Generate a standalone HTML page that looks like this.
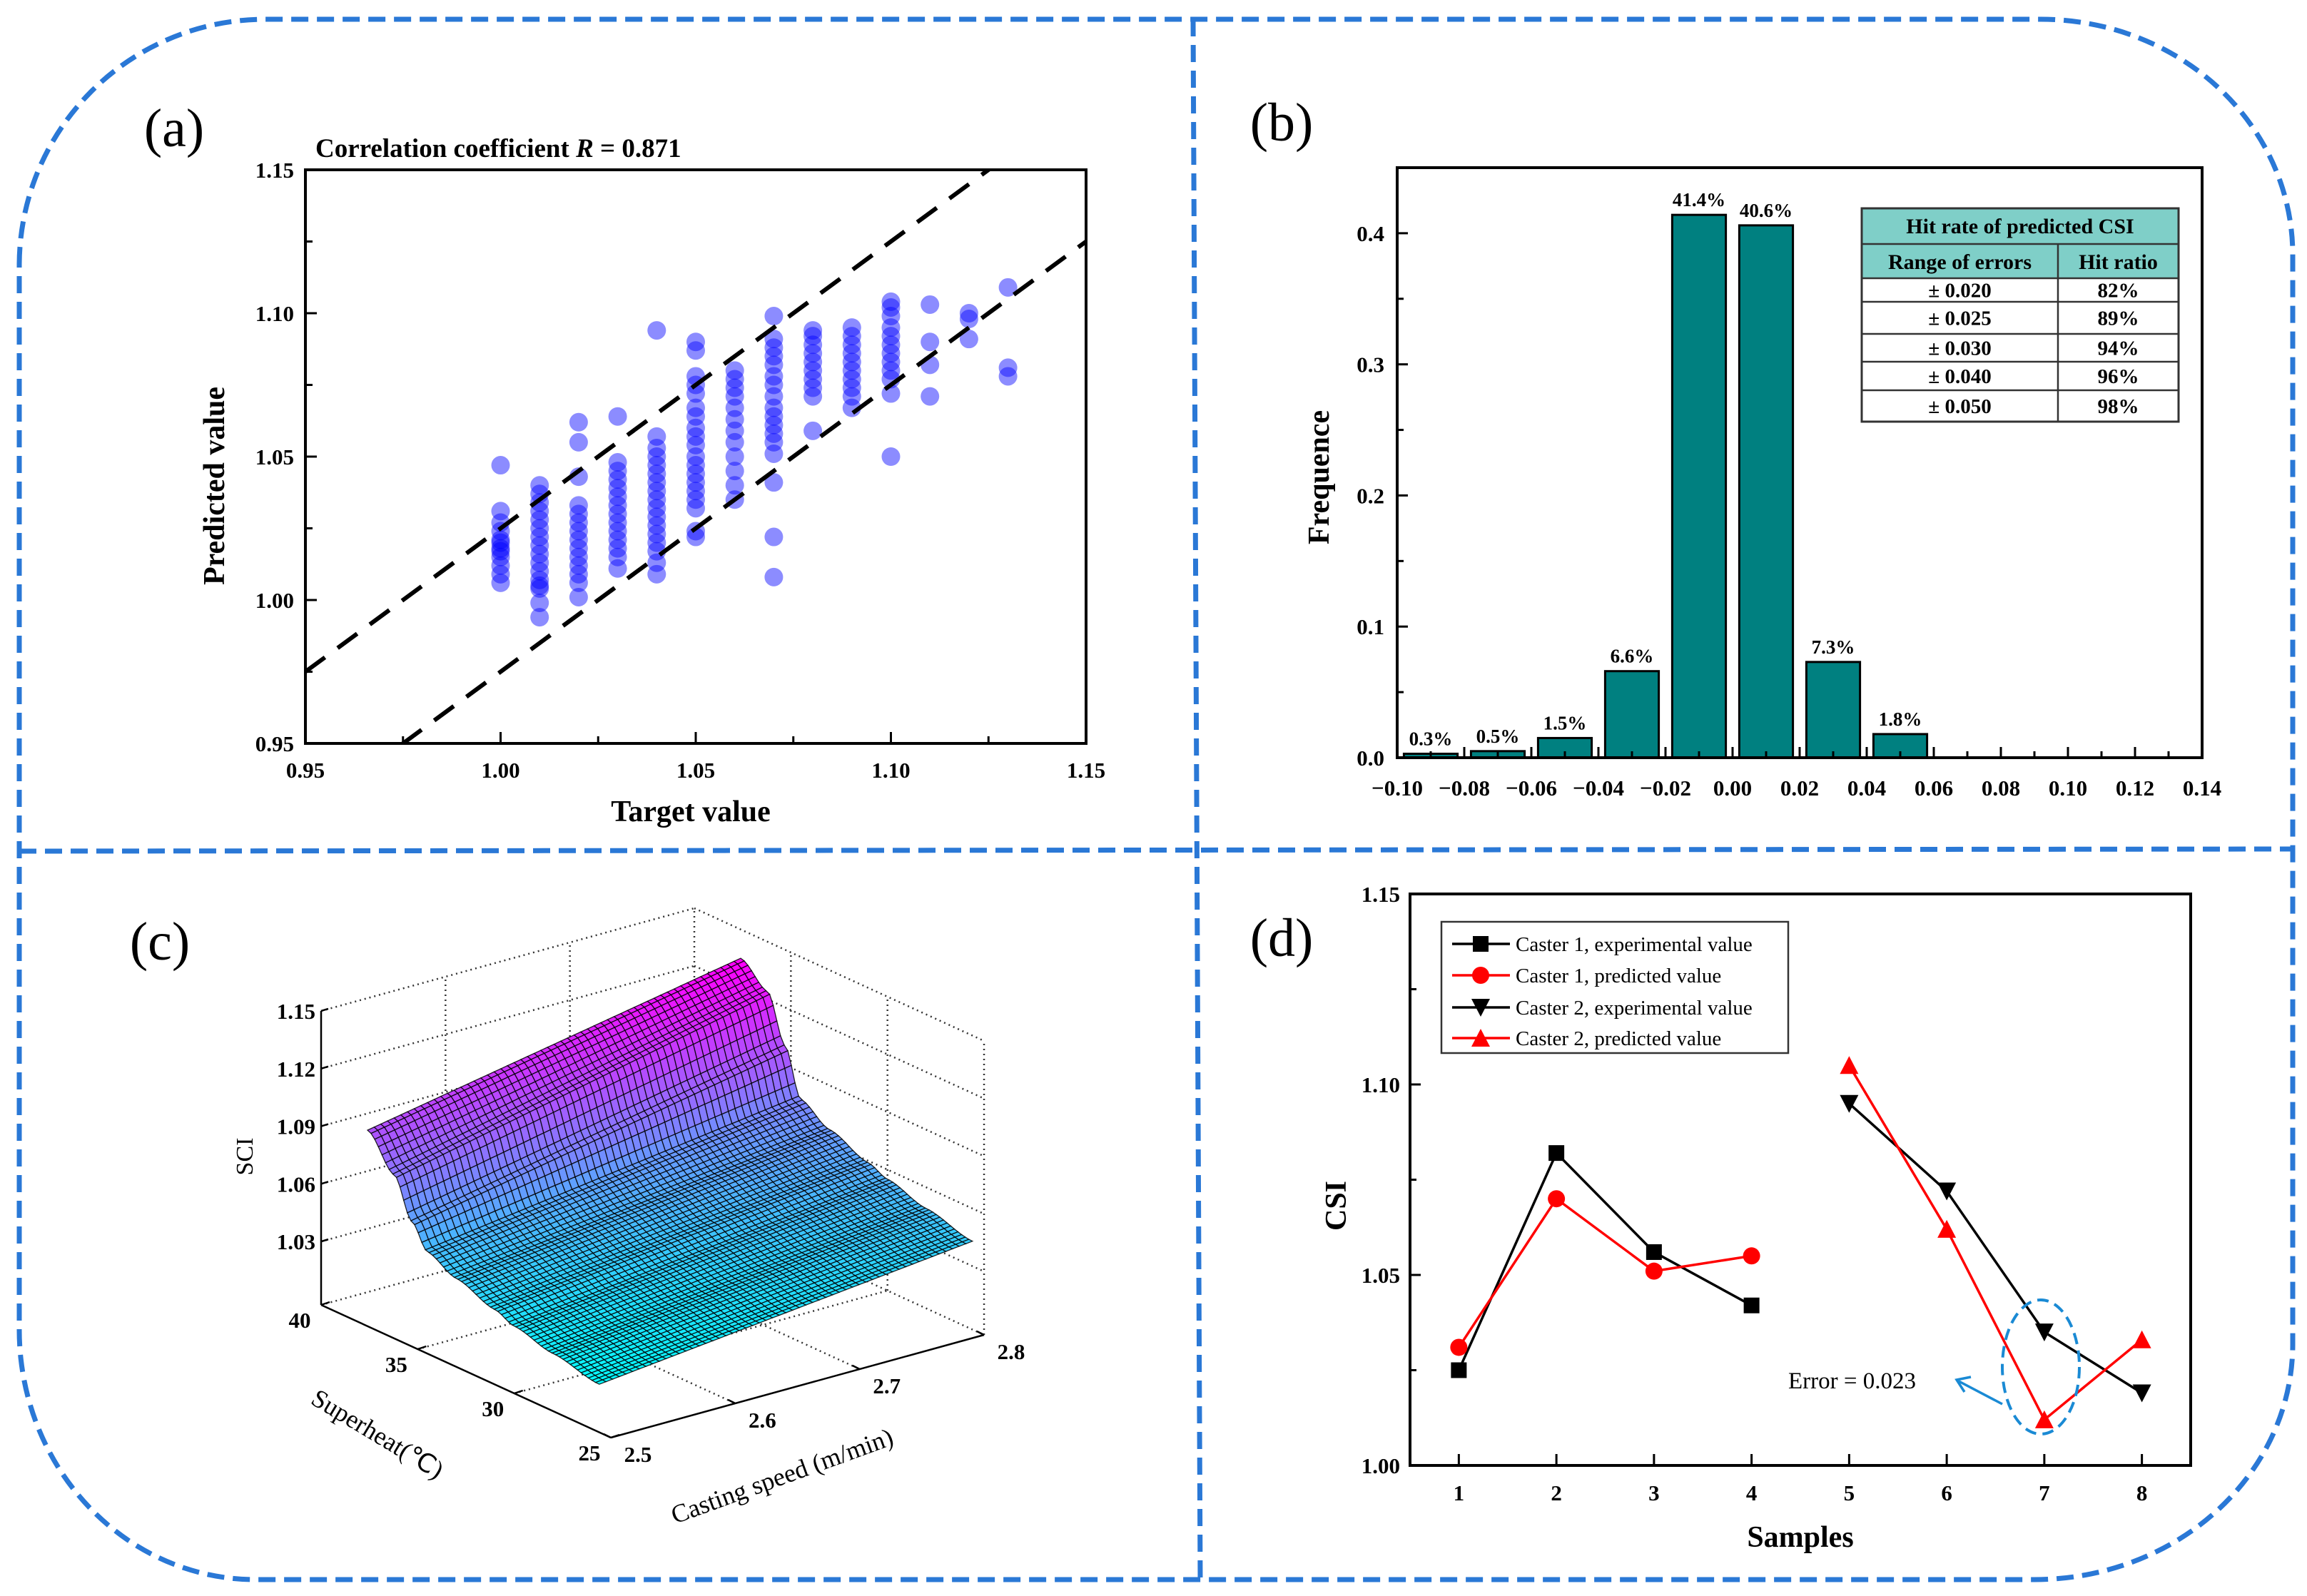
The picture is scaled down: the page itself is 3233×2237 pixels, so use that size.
<!DOCTYPE html>
<html><head><meta charset="utf-8"><style>
html,body{margin:0;padding:0;background:#fff}
svg{display:block}
text{font-family:"Liberation Serif",serif}
.b{font-weight:bold}
</style></head><body>
<svg id="fig" width="3233" height="2237" viewBox="0 0 3233 2237" xmlns="http://www.w3.org/2000/svg">
<g id="frame" fill="none" stroke="#2a78d6" stroke-width="7" stroke-dasharray="24 12">
<path d="M27,370 A345,345 0 0 1 372,27 L2860,27 A353,330 0 0 1 3213,357 L3213,1885 A362,330 0 0 1 2851,2214 L358,2214 A331,350 0 0 1 27,1864 Z"/>
<line x1="1672" y1="27" x2="1682" y2="2214"/>
<line x1="27" y1="1193" x2="3213" y2="1190"/>
</g>
<g id="pa"></g>
<g id="pb"></g>
<g id="pc"></g>
<g id="pd"></g>
</svg>
<script>
// ---------- Panel (a) data ----------
const aTargets=[1.00,1.01,1.02,1.03,1.04,1.05,1.06,1.07,1.08,1.09,1.10,1.11,1.12,1.13];
const aPredicted=[
[1.047,1.031,1.027,1.024,1.021,1.018,1.015,1.012,1.009,1.006,1.020,1.017],
[0.994,0.999,1.004,1.007,1.010,1.013,1.016,1.019,1.022,1.025,1.028,1.031,1.034,1.037,1.040,1.005],
[1.001,1.006,1.009,1.012,1.015,1.018,1.021,1.024,1.027,1.030,1.033,1.043,1.055,1.062],
[1.011,1.015,1.018,1.021,1.024,1.027,1.030,1.033,1.036,1.039,1.042,1.045,1.048,1.064],
[1.009,1.013,1.017,1.020,1.023,1.026,1.029,1.032,1.035,1.038,1.041,1.044,1.047,1.050,1.053,1.057,1.094],
[1.022,1.024,1.032,1.035,1.038,1.041,1.044,1.047,1.050,1.054,1.057,1.060,1.064,1.067,1.072,1.075,1.078,1.087,1.090],
[1.035,1.040,1.045,1.050,1.055,1.059,1.063,1.067,1.071,1.074,1.077,1.080],
[1.008,1.022,1.041,1.051,1.055,1.058,1.061,1.064,1.067,1.071,1.075,1.078,1.082,1.085,1.088,1.091,1.099],
[1.059,1.071,1.074,1.077,1.080,1.083,1.086,1.089,1.092,1.094],
[1.067,1.071,1.074,1.077,1.080,1.083,1.086,1.089,1.092,1.095],
[1.050,1.072,1.077,1.080,1.083,1.086,1.089,1.092,1.095,1.099,1.102,1.104],
[1.071,1.082,1.090,1.103],
[1.091,1.098,1.100],
[1.078,1.081,1.109]];
const aTicks=["0.95","1.00","1.05","1.10","1.15"];
const aBandOffsets=[0.025,-0.025];

// ---------- Panel (b) data ----------
const bBins=[-0.09,-0.07,-0.05,-0.03,-0.01,0.01,0.03,0.05];
const bFreq=[0.003,0.005,0.015,0.066,0.414,0.406,0.073,0.018];
const bLabels=["0.3%","0.5%","1.5%","6.6%","41.4%","40.6%","7.3%","1.8%"];
const bXTicks=["\u22120.10","\u22120.08","\u22120.06","\u22120.04","\u22120.02","0.00","0.02","0.04","0.06","0.08","0.10","0.12","0.14"];
const bYTicks=["0.0","0.1","0.2","0.3","0.4"];
const tRanges=["\u00b1 0.020","\u00b1 0.025","\u00b1 0.030","\u00b1 0.040","\u00b1 0.050"];
const tRatios=["82%","89%","94%","96%","98%"];

// ---------- Panel (c) data ----------
const cProfileS=[25.6,28,30,31,33,34.5,35.3,36.2,37.6];
const cZLowSpeed=[1.022,1.027,1.032,1.036,1.043,1.050,1.062,1.082,1.099];
const cZHighSpeed=[1.043,1.049,1.055,1.059,1.067,1.076,1.100,1.124,1.135];
const cZTicks=["1.03","1.06","1.09","1.12","1.15"];
const cSTicks=["40","35","30","25"];
const cVTicks=["2.5","2.6","2.7","2.8"];

// ---------- Panel (d) data ----------
const dSamples1=[1,2,3,4];
const dSamples2=[5,6,7,8];
const dC1Exp=[1.025,1.082,1.056,1.042];
const dC1Pred=[1.031,1.070,1.051,1.055];
const dC2Exp=[1.095,1.072,1.035,1.019];
const dC2Pred=[1.105,1.062,1.012,1.033];
const dYTicks=["1.00","1.05","1.10","1.15"];
const dXTicks=["1","2","3","4","5","6","7","8"];

const NS="http://www.w3.org/2000/svg";
function mk(parent,tag,attrs,txt){const e=document.createElementNS(NS,tag);for(const k in attrs)e.setAttribute(k,attrs[k]);if(txt!==undefined)e.textContent=txt;parent.appendChild(e);return e;}

// ================= Panel A =================
(function(){
const g=document.getElementById('pa');
const L=428,R=1522,T=238,B=1042;
const xs=v=>L+(v-0.95)/0.2*(R-L), ys=v=>B-(v-0.95)/0.2*(B-T);
let t=mk(g,'text',{x:244,y:205,'font-size':76,'text-anchor':'middle'},'(a)');

t=mk(g,'text',{x:442,y:220,'font-size':37,class:'b'});

t.innerHTML='Correlation coefficient <tspan font-style="italic">R</tspan> = 0.871';
const pts=mk(g,'g',{fill:'#0000ff','fill-opacity':0.45});

aTargets.forEach((tx,i)=>{aPredicted[i].forEach(py=>{
 const c=mk(pts,'circle',{cx:xs(tx),cy:ys(py),r:13});
 
 
});});
const clip=mk(g,'clipPath',{id:'clipA'});mk(clip,'rect',{x:L,y:T,width:R-L,height:B-T});
aBandOffsets.forEach((o,i)=>{
 const ln=mk(g,'line',{x1:xs(0.95),y1:ys(0.95+o),x2:xs(1.15),y2:ys(1.15+o),stroke:'#000','stroke-width':6,'stroke-dasharray':'34 22','clip-path':'url(#clipA)'});
 
 
});
const box=mk(g,'rect',{x:L,y:T,width:R-L,height:B-T,fill:'none',stroke:'#000','stroke-width':4});

for(let k=0;k<=8;k++){const v=0.95+k*0.025;
 mk(g,'line',{x1:xs(v),y1:B,x2:xs(v),y2:B-(k%2?10:16),stroke:'#000','stroke-width':3});
 mk(g,'line',{x1:L,y1:ys(v),x2:L+(k%2?10:16),y2:ys(v),stroke:'#000','stroke-width':3});}
aTicks.forEach((s,k)=>{const v=0.95+k*0.05;
 let e=mk(g,'text',{x:xs(v),y:1090,'font-size':31,'text-anchor':'middle',class:'b'},s);
 
 e=mk(g,'text',{x:412,y:ys(v)+11,'font-size':31,'text-anchor':'end',class:'b'},s);
 });
t=mk(g,'text',{x:968,y:1151,'font-size':42,'text-anchor':'middle',class:'b'},'Target value');

t=mk(g,'text',{x:0,y:0,'font-size':42,'text-anchor':'middle',class:'b',transform:'translate(314,681) rotate(-90)'},'Predicted value');

})();

// ================= Panel B =================
(function(){
const g=document.getElementById('pb');
const L=1958,R=3086,T=235,B=1062;
const xs=v=>L+(v+0.10)/0.24*(R-L), ys=v=>B-v/0.45*(B-T);
let t=mk(g,'text',{x:1796,y:197,'font-size':76,'text-anchor':'middle'},'(b)');

bBins.forEach((c,i)=>{
 const x0=xs(c-0.008),x1=xs(c+0.008);
 const r=mk(g,'rect',{x:x0,y:ys(bFreq[i]),width:x1-x0,height:B-ys(bFreq[i]),fill:'#008080',stroke:'#000','stroke-width':3});
 
 
 const l=mk(g,'text',{x:xs(c),y:ys(bFreq[i])-12,'font-size':27,'text-anchor':'middle',class:'b'},bLabels[i]);
 
 
});
const box=mk(g,'rect',{x:L,y:T,width:R-L,height:B-T,fill:'none',stroke:'#000','stroke-width':4});

for(let k=0;k<=24;k++){const v=-0.10+k*0.01;
 mk(g,'line',{x1:xs(v),y1:B,x2:xs(v),y2:B-(k%2?9:15),stroke:'#000','stroke-width':3});}
for(let k=0;k<=9;k++){const v=k*0.05;
 mk(g,'line',{x1:L,y1:ys(v),x2:L+(k%2?9:15),y2:ys(v),stroke:'#000','stroke-width':3});}
bXTicks.forEach((s,k)=>{const v=-0.10+k*0.02;
 const e=mk(g,'text',{x:xs(v),y:1115,'font-size':31,'text-anchor':'middle',class:'b'},s);
 });
bYTicks.forEach((s,k)=>{const v=k*0.1;
 const e=mk(g,'text',{x:1940,y:ys(v)+11,'font-size':31,'text-anchor':'end',class:'b'},s);
 });
t=mk(g,'text',{x:0,y:0,'font-size':42,'text-anchor':'middle',class:'b',transform:'translate(1862,669) rotate(-90)'},'Frequence');

const tg=mk(g,'g',{});

const TL=2609,TR=3053,C=2884,rows=[292,342,390,423,468,507,547,591];
mk(tg,'rect',{x:TL,y:rows[0],width:TR-TL,height:rows[2]-rows[0],fill:'#7fcfc8'});
mk(tg,'rect',{x:TL,y:rows[0],width:TR-TL,height:rows[7]-rows[0],fill:'none',stroke:'#333','stroke-width':3});
rows.slice(1,7).forEach(y=>mk(tg,'line',{x1:TL,y1:y,x2:TR,y2:y,stroke:'#333','stroke-width':2.5}));
mk(tg,'line',{x1:C,y1:rows[1],x2:C,y2:rows[7],stroke:'#333','stroke-width':2.5});
let e=mk(tg,'text',{x:(TL+TR)/2,y:327,'font-size':30,'text-anchor':'middle',class:'b'},'Hit rate of predicted CSI');

e=mk(tg,'text',{x:(TL+C)/2,y:377,'font-size':30,'text-anchor':'middle',class:'b'},'Range of  errors');

e=mk(tg,'text',{x:(C+TR)/2,y:377,'font-size':30,'text-anchor':'middle',class:'b'},'Hit ratio');

tRanges.forEach((s,i)=>{const cy=(rows[i+2]+rows[i+3])/2+10;
 let c=mk(tg,'text',{x:(TL+C)/2,y:cy,'font-size':29,'text-anchor':'middle',class:'b'},s);
 
 c=mk(tg,'text',{x:(C+TR)/2,y:cy,'font-size':29,'text-anchor':'middle',class:'b'},tRatios[i]);
 });
})();

// ================= Panel C =================
(function(){
const g=document.getElementById('pc');
const Z0=0.997;
const P=(s,v,z)=>[450+(40-s)*27.07+(v-2.5)/0.3*523, 1829+(40-s)*12.4-(v-2.5)/0.3*144-(z-Z0)*2693];
let t=mk(g,'text',{x:224,y:1345,'font-size':76,'text-anchor':'middle'},'(c)');

const grid=mk(g,'g',{stroke:'#333','stroke-width':2.5,'stroke-dasharray':'2 5',fill:'none'});

const L=(a,b)=>mk(grid,'line',{x1:a[0],y1:a[1],x2:b[0],y2:b[1]});
const zt=[1.03,1.06,1.09,1.12,1.15];
[Z0].concat(zt).forEach(z=>{L(P(40,2.5,z),P(40,2.8,z));L(P(40,2.8,z),P(25,2.8,z));});
[2.6,2.7].forEach(v=>{L(P(40,v,Z0),P(40,v,1.15));L(P(40,v,Z0),P(25,v,Z0));});
L(P(40,2.8,Z0),P(40,2.8,1.15));
[35,30].forEach(s=>{L(P(s,2.8,Z0),P(s,2.8,1.15));L(P(s,2.5,Z0),P(s,2.8,Z0));});
L(P(25,2.8,Z0),P(25,2.8,1.15));
const interp=(arr,s)=>{if(s<=cProfileS[0])return arr[0];for(let i=1;i<cProfileS.length;i++){if(s<=cProfileS[i]){const f=(s-cProfileS[i-1])/(cProfileS[i]-cProfileS[i-1]);const sm=f*f*(3-2*f);return arr[i-1]+(arr[i]-arr[i-1])*sm;}}return arr[arr.length-1];};
const zf=(s,v)=>{const a=interp(cZLowSpeed,s),b=interp(cZHighSpeed,s);return a+(b-a)*(v-2.5)/0.3;};
const sMin=cProfileS[0],sMax=cProfileS[cProfileS.length-1];
const NS_=64,NV=56,quads=[];
for(let i=0;i<NS_;i++)for(let j=0;j<NV;j++){
 const s0=sMin+(sMax-sMin)*i/NS_,s1=sMin+(sMax-sMin)*(i+1)/NS_,v0=2.5+0.3*j/NV,v1=2.5+0.3*(j+1)/NV;
 quads.push({s0,s1,v0,v1,d:(i/NS_)+(j/NV)});}
quads.sort((a,b)=>b.d-a.d);
const surf=mk(g,'g',{stroke:'#000','stroke-width':1.3,'stroke-opacity':0.85});

quads.forEach(q=>{
 const c=[[q.s0,q.v0],[q.s1,q.v0],[q.s1,q.v1],[q.s0,q.v1]].map(p=>P(p[0],p[1],zf(p[0],p[1])));
 const zm=zf((q.s0+q.s1)/2,(q.v0+q.v1)/2);
 let u=(zm-1.02)/(1.135-1.02);u=Math.max(0,Math.min(1,u));
 const col='rgb('+Math.round(255*u)+','+Math.round(255*(1-u))+',255)';
 const p=mk(surf,'polygon',{points:c.map(a=>a[0].toFixed(1)+','+a[1].toFixed(1)).join(' '),fill:col});
 
 
});
const ax=mk(g,'g',{stroke:'#000','stroke-width':2.5});

let a=P(40,2.5,Z0),b=P(40,2.5,1.15);mk(ax,'line',{x1:a[0],y1:a[1],x2:b[0],y2:b[1]});
b=P(25,2.5,Z0);mk(ax,'line',{x1:a[0],y1:a[1],x2:b[0],y2:b[1]});
a=P(25,2.8,Z0);mk(ax,'line',{x1:b[0],y1:b[1],x2:a[0],y2:a[1]});
cZTicks.forEach(s=>{const p=P(40,2.5,parseFloat(s));
 mk(ax,'line',{x1:p[0],y1:p[1],x2:p[0]+10,y2:p[1]-3});
 const e=mk(g,'text',{x:p[0]-8,y:p[1]+11,'font-size':31,'text-anchor':'end',class:'b'},s);
 });
cSTicks.forEach(s=>{const p=P(parseFloat(s),2.5,Z0);
 mk(ax,'line',{x1:p[0],y1:p[1],x2:p[0]+12,y2:p[1]-4});
 const e=mk(g,'text',{x:p[0]-30,y:p[1]+32,'font-size':31,'text-anchor':'middle',class:'b'},s);
 });
cVTicks.forEach(s=>{const p=P(25,parseFloat(s),Z0);
 mk(ax,'line',{x1:p[0],y1:p[1],x2:p[0]-10,y2:p[1]-5});
 const e=mk(g,'text',{x:p[0]+38,y:p[1]+34,'font-size':31,'text-anchor':'middle',class:'b'},s);
 });
t=mk(g,'text',{x:0,y:0,'font-size':34,'text-anchor':'middle',transform:'translate(354,1621) rotate(-90)'},'SCI');

t=mk(g,'text',{x:0,y:0,'font-size':36,'text-anchor':'middle',transform:'translate(523,2020) rotate(31)'},'Superheat(\u2103)');

t=mk(g,'text',{x:0,y:0,'font-size':36,'text-anchor':'middle',transform:'translate(1100,2080) rotate(-20)'},'Casting speed (m/min)');

})();

// ================= Panel D =================
(function(){
const g=document.getElementById('pd');
const L=1976,R=3070,T=1253,B=2054;
const xs=v=>L+(v-0.5)/8*(R-L), ys=v=>B-(v-1.0)/0.15*(B-T);
let t=mk(g,'text',{x:1796,y:1340,'font-size':76,'text-anchor':'middle'},'(d)');

const box=mk(g,'rect',{x:L,y:T,width:R-L,height:B-T,fill:'none',stroke:'#000','stroke-width':4});

dXTicks.forEach((s,k)=>{const x=xs(k+1);
 mk(g,'line',{x1:x,y1:B,x2:x,y2:B-16,stroke:'#000','stroke-width':3});
 const e=mk(g,'text',{x:x,y:2103,'font-size':31,'text-anchor':'middle',class:'b'},s);
 });
for(let k=0;k<=6;k++){const v=1+k*0.025;mk(g,'line',{x1:L,y1:ys(v),x2:L+(k%2?9:15),y2:ys(v),stroke:'#000','stroke-width':3});}
dYTicks.forEach((s,k)=>{const v=1+k*0.05;
 const e=mk(g,'text',{x:1962,y:ys(v)+11,'font-size':31,'text-anchor':'end',class:'b'},s);
 });
t=mk(g,'text',{x:0,y:0,'font-size':42,'text-anchor':'middle',class:'b',transform:'translate(1886,1690) rotate(-90)'},'CSI');

t=mk(g,'text',{x:2523,y:2168,'font-size':42,'text-anchor':'middle',class:'b'},'Samples');

function marker(parent,type,x,y,color){
 if(type==='sq')return mk(parent,'rect',{x:x-11,y:y-11,width:22,height:22,fill:color});
 if(type==='ci')return mk(parent,'circle',{cx:x,cy:y,r:12,fill:color});
 if(type==='dn')return mk(parent,'polygon',{points:`${x-13},${y-12} ${x+13},${y-12} ${x},${y+13}`,fill:color});
 return mk(parent,'polygon',{points:`${x-13},${y+12} ${x+13},${y+12} ${x},${y-13}`,fill:color});}
const series=[[dSamples1,dC1Exp,'#000','sq','caster1-experimental'],[dSamples1,dC1Pred,'#ff0000','ci','caster1-predicted'],[dSamples2,dC2Exp,'#000','dn','caster2-experimental'],[dSamples2,dC2Pred,'#ff0000','up','caster2-predicted']];
series.forEach(sr=>{
 const sg=mk(g,'g',{});
 
 const pl=mk(sg,'polyline',{points:sr[0].map((x,i)=>xs(x)+','+ys(sr[1][i])).join(' '),fill:'none',stroke:sr[2],'stroke-width':3.5});
 
 sr[0].forEach((x,i)=>{const m=marker(sg,sr[3],xs(x),ys(sr[1][i]),sr[2]);
  
  });
});
const lg=mk(g,'g',{});

mk(lg,'rect',{x:2020,y:1292,width:486,height:184,fill:'#fff',stroke:'#333','stroke-width':2.5});
const ltxt=['Caster 1, experimental value','Caster 1, predicted value','Caster 2, experimental value','Caster 2, predicted value'];
[1323,1367,1412,1455].forEach((y,i)=>{
 const eg=mk(lg,'g',{});
 
 mk(eg,'line',{x1:2035,y1:y,x2:2116,y2:y,stroke:series[i][2],'stroke-width':3.5});
 marker(eg,series[i][3],2075,y,series[i][2]);
 mk(eg,'text',{x:2124,y:y+10,'font-size':29},ltxt[i]);});
const an=mk(g,'g',{});

mk(an,'ellipse',{cx:2860,cy:1916,rx:54,ry:94,fill:'none',stroke:'#1a8ad4','stroke-width':4,'stroke-dasharray':'16 9'});
mk(an,'line',{x1:2806,y1:1968,x2:2745,y2:1936,stroke:'#1a8ad4','stroke-width':3.5});
mk(an,'polyline',{points:'2762,1930 2742,1934 2753,1951',fill:'none',stroke:'#1a8ad4','stroke-width':3.5});
mk(an,'text',{x:2506,y:1946,'font-size':33},'Error = 0.023');
})();
</script>
</body></html>
